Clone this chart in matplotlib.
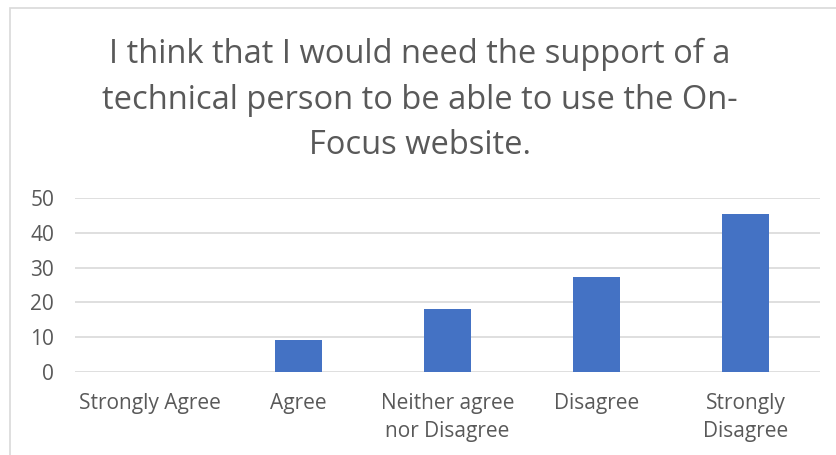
import matplotlib
matplotlib.use("Agg")
import matplotlib.pyplot as plt
from matplotlib.patches import Rectangle

categories = ["Strongly Agree", "Agree", "Neither agree\nnor Disagree", "Disagree", "Strongly\nDisagree"]
values = [0, 9.09, 18.18, 27.27, 45.45]
yticks = [0, 10, 20, 30, 40, 50]
title = "I think that I would need the support of a\ntechnical person to be able to use the On-\nFocus website."

plt.rcParams['font.family'] = ['Open Sans', 'DejaVu Sans']
W, H = 836, 455
fig = plt.figure(figsize=(W/100, H/100), dpi=100)
fig.patch.set_facecolor('white')

# chart border
fig.add_artist(Rectangle((10/W, -0.1), 1.0, (H-8)/H + 0.1, transform=fig.transFigure,
                         fill=False, edgecolor='#d9d9d9', linewidth=1.2))

ax = fig.add_axes([75/W, 1-372/H, (820-75)/W, (372-198)/H])
x = list(range(len(categories)))
ax.bar(x, values, width=0.32, color='#4472C4', zorder=3)
ax.set_xlim(-0.5, len(categories)-0.5)
ax.set_ylim(0, 50)
ax.set_yticks(yticks)
ax.set_yticklabels([str(v) for v in yticks])
ax.set_xticks(x)
ax.set_xticklabels(categories)
ax.grid(axis='y', color='#d9d9d9', linewidth=1.2, zorder=0)
for s in ax.spines.values():
    s.set_visible(False)
ax.tick_params(axis='both', length=0, labelsize=15, colors='#595959')
ax.tick_params(axis='x', pad=15)
ax.tick_params(axis='y', pad=15)
for lbl in ax.get_xticklabels():
    lbl.set_linespacing(1.45)

fig.text(420/W, 1-100/H, title, ha='center', va='center', fontsize=23.5,
         color='#595959', linespacing=1.5)

fig.savefig("out.png", dpi=100)
